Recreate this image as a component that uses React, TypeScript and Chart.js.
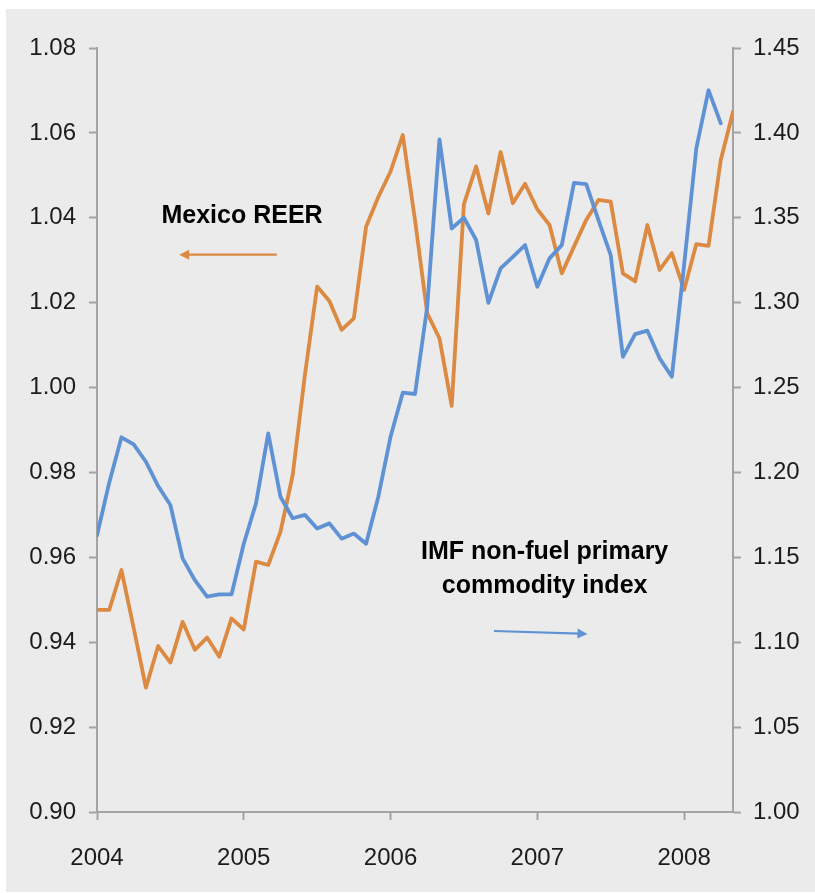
import React, { useEffect, useRef } from 'react';
import { Chart, registerables } from 'chart.js';

Chart.register(...registerables);

// Year tick labels (one every 12 months, starting Jan 2004)
const yearLabels = ['2004', '2005', '2006', '2007', '2008'];

// Mexico REER (left axis), monthly Jan 2004 – May 2008
const mexicoReer = [
  0.9476, 0.9476, 0.957, 0.9433, 0.9293, 0.9391, 0.9352, 0.9448, 0.9382, 0.9411, 0.9366, 0.9456,
  0.943, 0.959, 0.9582, 0.966, 0.9794, 1.003, 1.0238, 1.0204, 1.0136, 1.0163, 1.0379, 1.0449,
  1.0509, 1.0595, 1.0395, 1.0175, 1.0116, 0.9957, 1.0432, 1.0521, 1.041, 1.0555, 1.0434, 1.048,
  1.042, 1.0383, 1.0269, 1.0332, 1.0395, 1.0442, 1.0438, 1.0269, 1.025, 1.0383, 1.0277, 1.0317,
  1.023, 1.0338, 1.0334, 1.0536, 1.065,
];

// IMF non-fuel primary commodity index (right axis), monthly Jan 2004 – Apr 2008
const commodityIndex = [
  1.163, 1.194, 1.2207, 1.2165, 1.2063, 1.192, 1.1808, 1.1494, 1.1366, 1.1268, 1.1282, 1.1282,
  1.158, 1.1818, 1.223, 1.1857, 1.173, 1.175, 1.167, 1.17, 1.161, 1.164, 1.158, 1.1857,
  1.221, 1.247, 1.2462, 1.2976, 1.3962, 1.3437, 1.3501, 1.3369, 1.2999, 1.3202, 1.327, 1.3339,
  1.3094, 1.3261, 1.3339, 1.3706, 1.3698, 1.3486, 1.328, 1.2681, 1.2815, 1.2835, 1.2672, 1.2564,
  1.322, 1.3909, 1.4252, 1.4056,
];

// Axis ranges
const leftMin = 0.9;
const leftMax = 1.08;
const leftStep = 0.02;
const rightMin = 1.0;
const rightMax = 1.45;
const rightStep = 0.05;
const monthsMax = 52;

// Annotations (in data units: month index, axis value)
const reerLabelText = 'Mexico REER';
const reerLabelPos = [11.86, 1.0388];
const reerArrowFrom = [14.7, 1.0313];
const reerArrowTo = [6.72, 1.0313];

const commodityLabelLines = ['IMF non-fuel primary', 'commodity index'];
const commodityLabelMonth = 36.6;
const commodityLabelValues = [1.149, 1.129];
const commodityArrowFrom = [32.46, 1.1066];
const commodityArrowTo = [40.1, 1.1049];

const ORANGE = '#dc8a42';
const BLUE = '#5f92d4';
const AXIS = '#a3a3a3';
const TEXT = '#1c1c1c';
const FONT = "'Liberation Sans', Arial, sans-serif";

function drawArrow(ctx: CanvasRenderingContext2D, x1: number, y1: number, x2: number, y2: number, color: string) {
  const ang = Math.atan2(y2 - y1, x2 - x1);
  const head = 10;
  const half = 5;
  ctx.save();
  ctx.strokeStyle = color;
  ctx.fillStyle = color;
  ctx.lineWidth = 2.2;
  ctx.beginPath();
  ctx.moveTo(x1, y1);
  ctx.lineTo(x2 - Math.cos(ang) * head * 0.8, y2 - Math.sin(ang) * head * 0.8);
  ctx.stroke();
  ctx.beginPath();
  ctx.moveTo(x2, y2);
  ctx.lineTo(x2 - Math.cos(ang) * head - Math.sin(ang) * half, y2 - Math.sin(ang) * head + Math.cos(ang) * half);
  ctx.lineTo(x2 - Math.cos(ang) * head + Math.sin(ang) * half, y2 - Math.sin(ang) * head - Math.cos(ang) * half);
  ctx.closePath();
  ctx.fill();
  ctx.restore();
}

const annotationPlugin = {
  id: 'annotations',
  afterDatasetsDraw(chart: any) {
    const ctx: CanvasRenderingContext2D = chart.ctx;
    const x = chart.scales.x;
    const yl = chart.scales.y;
    const yr = chart.scales.y2;
    ctx.save();
    ctx.fillStyle = '#000';
    ctx.font = `bold 25px ${FONT}`;
    ctx.textAlign = 'center';
    ctx.textBaseline = 'alphabetic';
    ctx.fillText(reerLabelText, x.getPixelForValue(reerLabelPos[0]), yl.getPixelForValue(reerLabelPos[1]));
    commodityLabelLines.forEach((line, i) => {
      ctx.fillText(line, x.getPixelForValue(commodityLabelMonth), yr.getPixelForValue(commodityLabelValues[i]));
    });
    ctx.restore();
    drawArrow(
      ctx,
      x.getPixelForValue(reerArrowFrom[0]), yl.getPixelForValue(reerArrowFrom[1]),
      x.getPixelForValue(reerArrowTo[0]), yl.getPixelForValue(reerArrowTo[1]),
      ORANGE,
    );
    drawArrow(
      ctx,
      x.getPixelForValue(commodityArrowFrom[0]), yr.getPixelForValue(commodityArrowFrom[1]),
      x.getPixelForValue(commodityArrowTo[0]), yr.getPixelForValue(commodityArrowTo[1]),
      BLUE,
    );
  },
};

export default function App() {
  const ref = useRef<HTMLCanvasElement>(null);

  useEffect(() => {
    if (!ref.current) return;
    const tickFont = { family: FONT, size: 24 };
    const chart = new Chart(ref.current, {
      type: 'line',
      data: {
        datasets: [
          {
            label: 'IMF non-fuel primary commodity index',
            data: commodityIndex.map((v, i) => ({ x: i, y: v })),
            borderColor: BLUE,
            backgroundColor: BLUE,
            yAxisID: 'y2',
            order: 0,
          },
          {
            label: 'Mexico REER',
            data: mexicoReer.map((v, i) => ({ x: i, y: v })),
            borderColor: ORANGE,
            backgroundColor: ORANGE,
            yAxisID: 'y',
            order: 1,
          },
        ],
      },
      options: {
        animation: false,
        responsive: false,
        devicePixelRatio: 1,
        layout: { padding: { top: 39, left: 0, right: 0, bottom: 0 } },
        plugins: { legend: { display: false }, tooltip: { enabled: false } },
        elements: {
          point: { radius: 0 },
          line: { tension: 0, borderWidth: 3.8, borderJoinStyle: 'round', borderCapStyle: 'round' },
        },
        scales: {
          x: {
            type: 'linear',
            position: 'bottom',
            min: 0,
            max: monthsMax,
            afterFit: (s: any) => { s.height = 80; },
            border: { display: true, color: AXIS, width: 2 },
            grid: { drawOnChartArea: false, drawTicks: true, tickLength: 8, tickColor: AXIS, tickWidth: 2 },
            ticks: {
              stepSize: 12,
              includeBounds: false,
              autoSkip: false,
              maxRotation: 0,
              padding: 24,
              font: tickFont,
              color: TEXT,
              callback: (v: any) => yearLabels[Math.round(Number(v) / 12)] ?? '',
            },
          },
          y: {
            type: 'linear',
            position: 'left',
            min: leftMin,
            max: leftMax,
            afterFit: (s: any) => { s.width = 91; },
            border: { display: true, color: AXIS, width: 2 },
            grid: { drawOnChartArea: false, drawTicks: true, tickLength: 8, tickColor: AXIS, tickWidth: 2 },
            ticks: {
              stepSize: leftStep,
              padding: 13,
              font: tickFont,
              color: TEXT,
              callback: (v: any) => Number(v).toFixed(2),
            },
          },
          y2: {
            type: 'linear',
            position: 'right',
            min: rightMin,
            max: rightMax,
            afterFit: (s: any) => { s.width = 82; },
            border: { display: true, color: AXIS, width: 2 },
            grid: { drawOnChartArea: false, drawTicks: true, tickLength: 8, tickColor: AXIS, tickWidth: 2 },
            ticks: {
              stepSize: rightStep,
              padding: 12,
              font: tickFont,
              color: TEXT,
              callback: (v: any) => Number(v).toFixed(2),
            },
          },
        },
      },
      plugins: [annotationPlugin],
    } as any);
    return () => chart.destroy();
  }, []);

  return (
    <div style={{ position: 'absolute', left: 6, top: 9, width: 809, height: 883, background: '#ebebeb' }}>
      <canvas ref={ref} width={809} height={883} style={{ display: 'block' }} />
    </div>
  );
}
